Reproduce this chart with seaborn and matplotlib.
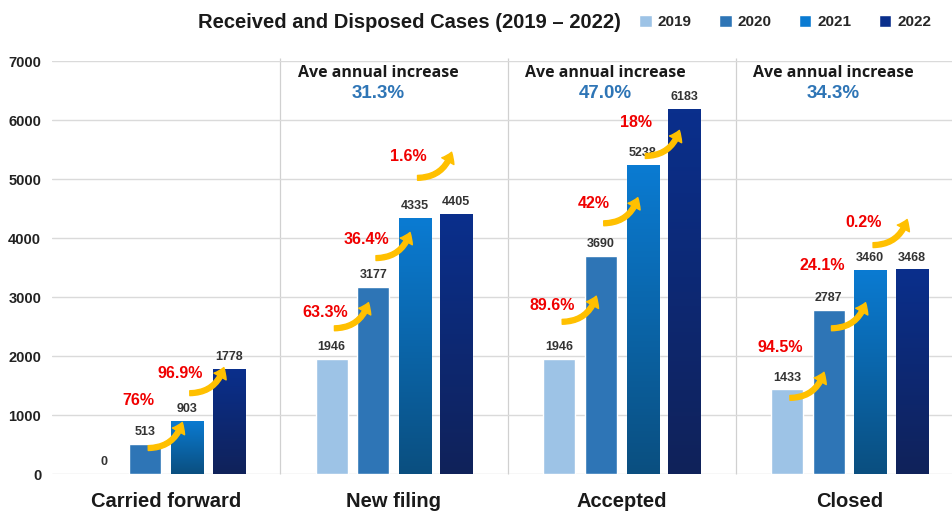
import numpy as np
import pandas as pd
import matplotlib
matplotlib.use("Agg")
import matplotlib.pyplot as plt
import seaborn as sns
from matplotlib.patches import FancyArrowPatch
from matplotlib.colors import LinearSegmentedColormap

categories = ["Carried forward", "New filing", "Accepted", "Closed"]
years = ["2019", "2020", "2021", "2022"]
v2019 = [0, 1946, 1946, 1433]
v2020 = [513, 3177, 3690, 2787]
v2021 = [903, 4335, 5238, 3460]
v2022 = [1778, 4405, 6183, 3468]
growth = [["", "76%", "96.9%"],
          ["63.3%", "36.4%", "1.6%"],
          ["89.6%", "42%", "18%"],
          ["94.5%", "24.1%", "0.2%"]]
avg_increase = ["", "31.3%", "47.0%", "34.3%"]

# placement of the growth arrows / labels (y in data units)
arrow_y = [[None, 440, 1370], [2470, 3660, 5020], [2580, 4250, 5390], [1290, 2470, 3880]]
label_y = [[None, 1250, 1710], [2740, 3980, 5390], [2860, 4580, 5950], [2140, 3540, 4270]]

colors = ["#9DC3E6", "#2E75B6", "#0A7BD2", "#0A2F8C"]

df = pd.DataFrame({
    "category": categories * 4,
    "year": [y for y in years for _ in categories],
    "value": v2019 + v2020 + v2021 + v2022,
})

sns.set_style("white")
plt.rcParams["font.family"] = ["Liberation Sans", "DejaVu Sans"]

fig = plt.figure(figsize=(9.52, 5.13), dpi=100)
ax = fig.add_axes([0.055, 0.076, 0.945, 0.805])

sns.barplot(data=df, x="category", y="value", hue="year", palette=colors,
            width=0.73, gap=0.23, ax=ax, saturation=1)

# gradient fill on 2021 / 2022 bars
grads = {2: ("#0B4F80", "#0A7BD2"), 3: ("#10225A", "#0A2F8C")}
for h, (c_bot, c_top) in grads.items():
    cmap = LinearSegmentedColormap.from_list("g%d" % h, [c_bot, c_top])
    for bar in ax.containers[h]:
        x0, w, ht = bar.get_x(), bar.get_width(), bar.get_height()
        im = ax.imshow(np.linspace(0, 1, 100).reshape(-1, 1), extent=[x0, x0 + w, 0, ht],
                       aspect="auto", cmap=cmap, origin="lower", zorder=bar.get_zorder() + 0.1)
        im.set_clip_path(bar)

ax.set_xlim(-0.5, 3.45)
ax.set_ylim(0, 7000)
ax.set_yticks(range(0, 7001, 1000))
ax.yaxis.grid(True, color="#DADADA", lw=1)
ax.set_axisbelow(True)
for s in ax.spines.values():
    s.set_visible(False)
ax.set_xlabel("")
ax.set_ylabel("")
ax.tick_params(axis="x", length=0, pad=13, labelsize=14.5, labelcolor="#1A1A1A")
ax.tick_params(axis="y", length=0, pad=8, labelsize=10.5, labelcolor="#222222")
for t in ax.get_xticklabels() + ax.get_yticklabels():
    t.set_fontweight("bold")

for xs in [0.5, 1.5, 2.5]:
    ax.vlines(xs, 0, 7050, color="#D0D0D0", lw=0.9, clip_on=False, zorder=0)

# value labels
for cont in ax.containers:
    for bar in cont:
        xc = bar.get_x() + bar.get_width() / 2
        v = bar.get_height()
        ax.text(xc, v + 150, "%d" % v, ha="center", va="baseline", fontsize=9,
                fontweight="bold", color="#333333", zorder=5)

# growth arrows
for g in range(4):
    for k in range(3):
        if not growth[g][k]:
            continue
        bar = ax.containers[k][g]
        xc = bar.get_x() + bar.get_width() / 2
        y0 = arrow_y[g][k]
        arr = FancyArrowPatch((xc, y0), (xc + 0.165, y0 + 480),
                              connectionstyle="arc3,rad=0.4",
                              arrowstyle="simple,head_width=10,head_length=7,tail_width=3.5",
                              color="#FFC000", zorder=6, mutation_scale=1)
        ax.add_patch(arr)
        ax.text(xc - 0.03, label_y[g][k], growth[g][k], ha="center", va="center",
                fontsize=11.5, fontweight="bold", color="#F00000", zorder=7)

# average annual increase
for g in range(1, 4):
    ax.text(g - 0.07, 6800, "Ave annual increase", ha="center", va="center",
            fontsize=11.5, fontweight="bold", color="#1A1A1A", family=["Open Sans", "DejaVu Sans"])
    ax.text(g - 0.07, 6450, avg_increase[g], ha="center", va="center",
            fontsize=13.5, fontweight="bold", color="#2E75B6")

fig.text(0.43, 0.957, "Received and Disposed Cases (2019 \u2013 2022)", ha="center", va="center",
         fontsize=14.5, fontweight="bold", color="#1A1A1A")

handles, labels = ax.get_legend_handles_labels()
ax.legend(handles, labels, ncol=4, loc="center", bbox_to_anchor=(0.825, 0.957),
          bbox_transform=fig.transFigure, frameon=False, handlelength=0.8, handleheight=0.8,
          handletextpad=0.4, columnspacing=1.8,
          prop={"weight": "bold", "size": 11})

fig.savefig("out.png", dpi=100)
